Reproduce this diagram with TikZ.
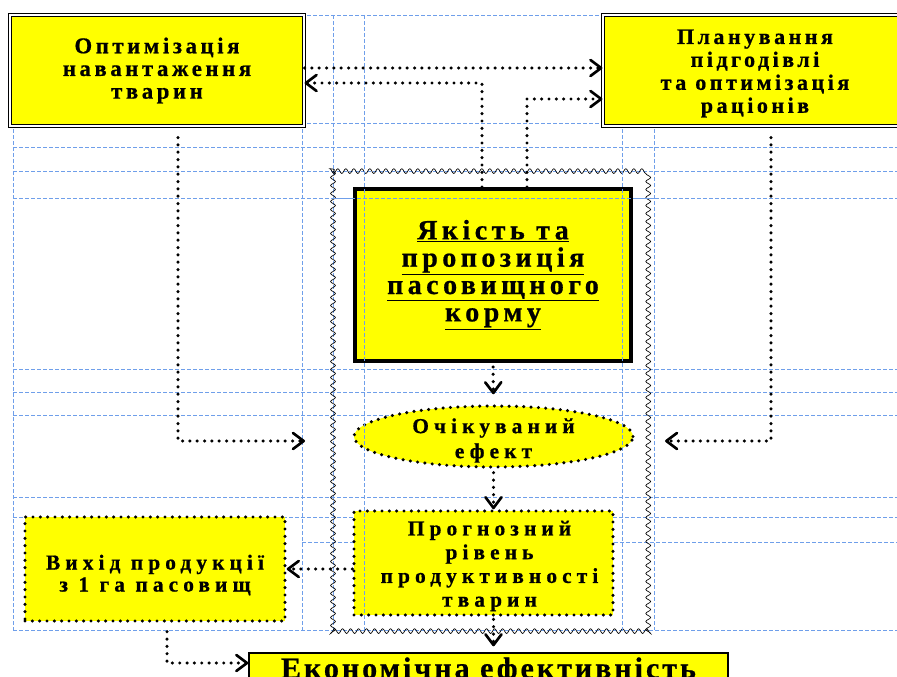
\documentclass[tikz,border=0pt]{standalone}
\usepackage{fontspec}
\setmainfont{Liberation Serif}
\newfontfamily\widefont[LetterSpace=24, BoldFeatures={FakeBold=0.7}]{Liberation Serif}
\newfontfamily\midfont[LetterSpace=16, BoldFeatures={FakeBold=0.7}]{Liberation Serif}
\newfontfamily\narrowfont[LetterSpace=10, BoldFeatures={FakeBold=0.7}]{Liberation Serif}
\usetikzlibrary{arrows.meta}
\usetikzlibrary{calc}
\usetikzlibrary{shapes.geometric}
\usetikzlibrary{decorations.pathmorphing}

\definecolor{gridblue}{HTML}{6F9FEA}
\definecolor{boxyellow}{HTML}{FFFF00}

\tikzset{
  helpline/.style={gridblue, line width=0.6pt, dash pattern=on 3pt off 1.5pt},
  dots/.style={line width=2.6pt, line cap=round, dash pattern=on 0pt off 5.5pt},
  conn/.style={dots, -{Straight Barb[length=8pt,width=12pt,line width=2pt,round]}},
  wavy/.style={line width=0.5pt, decorate, decoration={snake, amplitude=1.8pt, segment length=6pt}},
  dblbox/.style={draw, double, double distance=1.2pt, line width=0.8pt, fill=boxyellow, align=center, inner sep=0pt},
  thickbox/.style={draw, line width=3pt, fill=boxyellow, align=center, inner sep=0pt},
  dotbox/.style={draw, dots, fill=boxyellow, align=center, inner sep=0pt},
  dotoval/.style={dotbox, ellipse},
  plainbox/.style={draw, line width=1pt, fill=boxyellow, align=center, inner sep=0pt}
}

\begin{document}
\begin{tikzpicture}[x=0.75pt, y=-0.75pt]
  \clip (0,0) rectangle (897,677);

  \foreach \x in {13,302,333,364,622,654} {
    \draw[helpline] (\x,15) -- (\x,630);
  }
  \foreach \y in {15,123,147,171,198,369,392,415,497,517,630} {
    \draw[helpline] (13,\y) -- (897,\y);
  }
  \draw[helpline] (302,542) -- (897,542);

  \draw[wavy] (333,171) rectangle (655,630);

  \node[dblbox, minimum width=220.5pt, minimum height=83.25pt,
        font=\midfont\bfseries\fontsize{17}{17}\selectfont] (opt) at (157,70.5)
        {Оптимізація\\навантаження\\тварин};
  \node[dblbox, minimum width=228pt, minimum height=83.25pt] (plan) at (755,70.5) {};
  \node[align=center, inner sep=0pt,
        font=\midfont\bfseries\fontsize{16.5}{17.2}\selectfont] (plantext) at ($(plan.center)+(0,3)$)
        {Планування\\підгодівлі\\та оптимізація\\раціонів};

  \node[thickbox, minimum width=207pt, minimum height=129pt,
        font=\midfont\bfseries\fontsize{21}{20.5}\selectfont] (qual) at (493,275)
        {\underline{Якість та}\\\underline{пропозиція}\\\underline{пасовищного}\\\underline{корму}};

  \node[dotoval, minimum width=209.25pt, minimum height=45.75pt] (eff) at (493.5,436.5) {};
  \node[align=center, inner sep=0pt,
        font=\widefont\bfseries\fontsize{16}{18.75}\selectfont] (efftext) at ($(eff.center)+(0,4)$)
        {Очікуваний\\ефект};

  \node[dotbox, minimum width=194.25pt, minimum height=78pt] (progn) at (483.5,563) {};
  \node[align=center, inner sep=0pt,
        font=\widefont\bfseries\fontsize{16}{17.8}\selectfont] (progntext) at ($(progn.center)+(6,3)$)
        {Прогнозний\\рівень\\продуктивності\\тварин};

  \node[dotbox, minimum width=195pt, minimum height=78pt] (vykhid) at (155,569) {};
  \node[align=center, inner sep=0pt,
        font=\widefont\bfseries\fontsize{16}{16.5}\selectfont] (vykhidtext) at ($(vykhid.center)+(0,6)$)
        {Вихід продукції\\з 1 га пасовищ};

  \node[plainbox, minimum width=359.25pt, minimum height=30pt] (econ) at (488.5,673) {};
  \node[inner sep=0pt,
        font=\narrowfont\bfseries\fontsize{22.5}{25}\selectfont] (econtext) at ($(econ.center)+(0,-2)$)
        {Економічна ефективність};

  \draw[helpline] (364,171) -- (364,630);
  \draw[helpline] (622,171) -- (622,630);
  \draw[helpline] (333,198) -- (655,198);

  \coordinate (lin) at (305,441);
  \coordinate (rin) at (665,441);

  \draw[conn] ($(opt.east)+(0,-2.5)$) -- ($(plan.west)+(0,-2.5)$);
  \draw[conn] ($(qual.north)+(-11,0)$) |- ($(opt.east)+(0,12.5)$);
  \draw[conn] ($(qual.north)+(34,0)$) |- ($(plan.west)+(0,28.5)$);
  \draw[conn] ($(opt.south)+(21,11)$) |- (lin);
  \draw[conn] ($(plan.south)+(16,11)$) |- (rin);
  \draw[conn, shorten <=3pt, shorten >=7.5pt] (qual.south) -- (eff.north);
  \draw[conn, shorten <=3pt] (eff.south) -- (eff.south |- progn.north);
  \draw[conn] (vykhid.east -| progn.west) -- (vykhid.east);
  \draw[conn, shorten <=2pt, shorten >=4.5pt] (eff.south |- progn.south) -- (eff.south |- econ.north);
  \draw[conn] ($(vykhid.south)+(12,9)$) |- ($(econ.west)+(0,-10)$);
\end{tikzpicture}
\end{document}
